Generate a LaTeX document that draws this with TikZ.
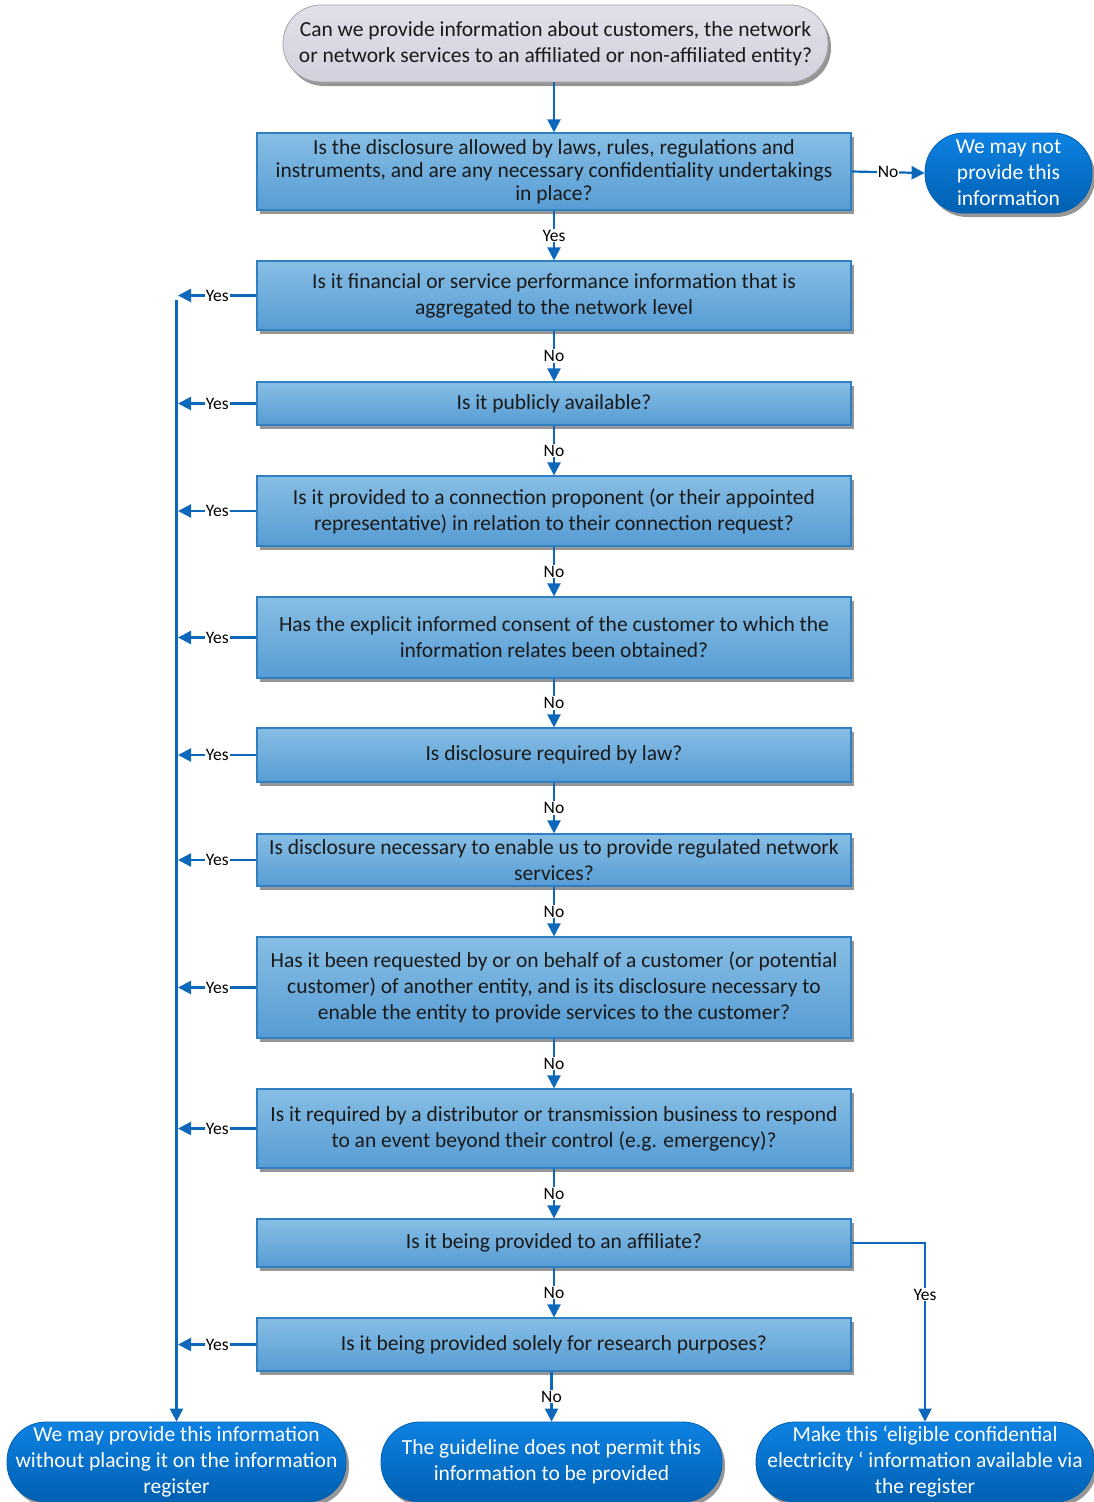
\documentclass[tikz,border=0pt]{standalone}
\usepackage{fontspec}
\setmainfont{Carlito}
\usetikzlibrary{arrows.meta,shadows}
\definecolor{conn}{RGB}{13,104,188}
\definecolor{boxtop}{RGB}{135,190,228}
\definecolor{boxbot}{RGB}{86,156,212}
\definecolor{boxline}{RGB}{47,127,193}
\definecolor{termtop}{RGB}{14,130,226}
\definecolor{termbot}{RGB}{0,96,178}
\definecolor{greytop}{RGB}{224,224,234}
\definecolor{greybot}{RGB}{210,210,222}
\definecolor{shadowc}{RGB}{150,150,150}
\begin{document}
\begin{tikzpicture}[x=1pt,y=-1pt,
  every node/.style={font=\fontsize{21.5}{26}\selectfont},
  qbox/.style={rectangle, draw=boxline, line width=1.2pt, top color=boxtop, bottom color=boxbot,
    minimum width=594, inner sep=0pt, align=center, text=black!90,
    drop shadow={shadow xshift=3pt, shadow yshift=-4pt, fill=shadowc, opacity=1}},
  term/.style={rectangle, rounded corners=39pt, draw=termbot, line width=0.8pt, top color=termtop, bottom color=termbot,
    minimum height=80, inner sep=0pt, align=center, text=white,
    drop shadow={shadow xshift=3pt, shadow yshift=-4pt, fill=shadowc, opacity=1}},
  startnode/.style={rectangle, rounded corners=38pt, draw=black!35, line width=0.8pt, top color=greytop, bottom color=greybot,
    minimum width=545, minimum height=77, inner sep=0pt, align=center, text=black!90,
    drop shadow={shadow xshift=3pt, shadow yshift=-4pt, fill=shadowc, opacity=1}},
  arr/.style={draw=conn, line width=2.2pt, -{Triangle[length=13pt,width=13pt]}},
  lbl/.style={fill=white, inner sep=1pt, text=black, font=\fontsize{17.5}{19}\selectfont},
]
\useasboundingbox (0,0) rectangle (1094,1502);

\node[startnode] (start) at (555.5,43.5) {Can we provide information about customers, the network\\or network services to an affiliated or non-affiliated entity?};

\node[qbox, minimum height=77, font=\fontsize{21.5}{23}\selectfont] (b1) at (554,171.5) {Is the disclosure allowed by laws, rules, regulations and\\instruments, and are any necessary confidentiality undertakings\\in place?};
\node[qbox, minimum height=69] (b2) at (554,295.5) {Is it financial or service performance information that is\\aggregated to the network level};
\node[qbox, minimum height=43] (b3) at (554,403.5) {Is it publicly available?};
\node[qbox, minimum height=70] (b4) at (554,511) {Is it provided to a connection proponent (or their appointed\\representative) in relation to their connection request?};
\node[qbox, minimum height=81] (b5) at (554,637.5) {Has the explicit informed consent of the customer to which the\\information relates been obtained?};
\node[qbox, minimum height=54] (b6) at (554,755) {Is disclosure required by law?};
\node[qbox, minimum height=52] (b7) at (554,860) {Is disclosure necessary to enable us to provide regulated network\\services?};
\node[qbox, minimum height=101] (b8) at (554,987.5) {Has it been requested by or on behalf of a customer (or potential\\customer) of another entity, and is its disclosure necessary to\\enable the entity to provide services to the customer?};
\node[qbox, minimum height=79] (b9) at (554,1128.5) {Is it required by a distributor or transmission business to respond\\to an event beyond their control (e.g. emergency)?};
\node[qbox, minimum height=48] (b10) at (554,1243) {Is it being provided to an affiliate?};
\node[qbox, minimum height=53] (b11) at (554,1344.5) {Is it being provided solely for research purposes?};

\node[term, minimum width=167] (nop) at (1008.5,173) {We may not\\provide this\\information};
\node[term, minimum width=339] (ok) at (176.5,1462) {We may provide this information\\without placing it on the information\\register};
\node[term, minimum width=341] (notp) at (551.5,1462) {The guideline does not permit this\\information to be provided};
\node[term, minimum width=338] (mk) at (925,1462) {Make this ‘eligible confidential\\electricity ‘ information available via\\the register};

% main spine
\draw[arr] (b1.north |- start.south) -- (b1.north);
\draw[arr] (b1) -- node[lbl]{Yes} (b2);
\draw[arr] (b2) -- node[lbl]{No} (b3);
\draw[arr] (b3) -- node[lbl]{No} (b4);
\draw[arr] (b4) -- node[lbl]{No} (b5);
\draw[arr] (b5) -- node[lbl]{No} (b6);
\draw[arr] (b6) -- node[lbl]{No} (b7);
\draw[arr] (b7) -- node[lbl]{No} (b8);
\draw[arr] (b8) -- node[lbl]{No} (b9);
\draw[arr] (b9) -- node[lbl]{No} (b10);
\draw[arr] (b10) -- node[lbl]{No} (b11);
\draw[arr] (notp.north |- b11.south) -- node[lbl]{No} (notp.north);

% No to the right
\draw[arr] (b1.east) -- node[lbl]{No} (nop.west);

% affiliate yes
\draw[arr] (b10.east) -| node[lbl, pos=0.645]{Yes} (mk.north);

% Yes branches to the left
\coordinate (yx) at (178,0);
\foreach \b in {b2,b3,b4,b5,b6,b7,b8,b9,b11}{
  \draw[arr] (\b.west) -- node[lbl]{Yes} (\b.west -| yx);
}
\coordinate (vtop) at (176.5,300);
\draw[arr] (vtop) -- (ok.north);
\end{tikzpicture}
\end{document}
